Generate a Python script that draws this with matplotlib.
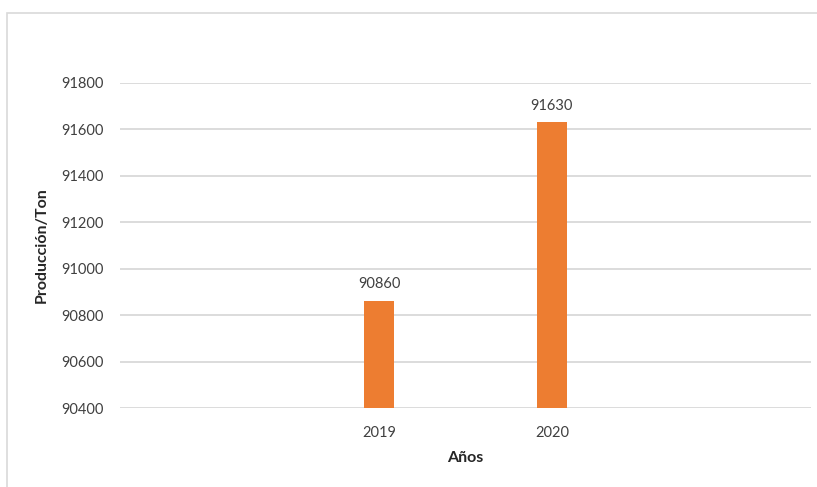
import matplotlib
matplotlib.use("Agg")
import matplotlib.pyplot as plt
from matplotlib.patches import Rectangle
import numpy as np

categories = ["", "2019", "2020", ""]
values = [np.nan, 90860, 91630, np.nan]
yticks = [90400, 90600, 90800, 91000, 91200, 91400, 91600, 91800]

plt.rcParams['font.family'] = ['Lato', 'DejaVu Sans']

W, H = 817, 487
fig = plt.figure(figsize=(W / 100, H / 100), dpi=100)
ax = fig.add_axes([120 / W, 1 - 408 / H, (811 - 120) / W, (408 - 83) / H])

x = np.arange(len(categories))
ax.bar(x, values, width=0.175, color="#ED7D31", zorder=3)
for xi, v in zip(x, values):
    if not np.isnan(v):
        ax.annotate(f"{int(v)}", (xi, v), xytext=(0, 7), textcoords="offset points",
                    ha="center", va="bottom", fontsize=10.5, color="#404040")

ax.set_xlim(-0.5, len(categories) - 0.5)
ax.set_ylim(yticks[0], yticks[-1])
ax.set_yticks(yticks)
ax.set_xticks(x)
ax.set_xticklabels(categories)
ax.tick_params(axis="y", length=0, pad=12, labelsize=10.5, labelcolor="#404040")
ax.tick_params(axis="x", length=0, pad=13, labelsize=10.5, labelcolor="#404040")
ax.grid(axis="y", color="#D9D9D9", linewidth=1.3, zorder=0)
for s in ax.spines.values():
    s.set_visible(False)

ax.set_ylabel("Producción/Ton", fontsize=11.5, fontweight="bold", color="#262626", labelpad=9)
ax.set_xlabel("Años", fontsize=11.5, fontweight="bold", color="#262626", labelpad=8)

fig.patches.append(Rectangle((7 / W, -0.1), 1.1, 1 - 13 / H + 0.1, transform=fig.transFigure,
                             fill=False, edgecolor="#D9D9D9", linewidth=1.2))

fig.savefig("out.png", dpi=100)
